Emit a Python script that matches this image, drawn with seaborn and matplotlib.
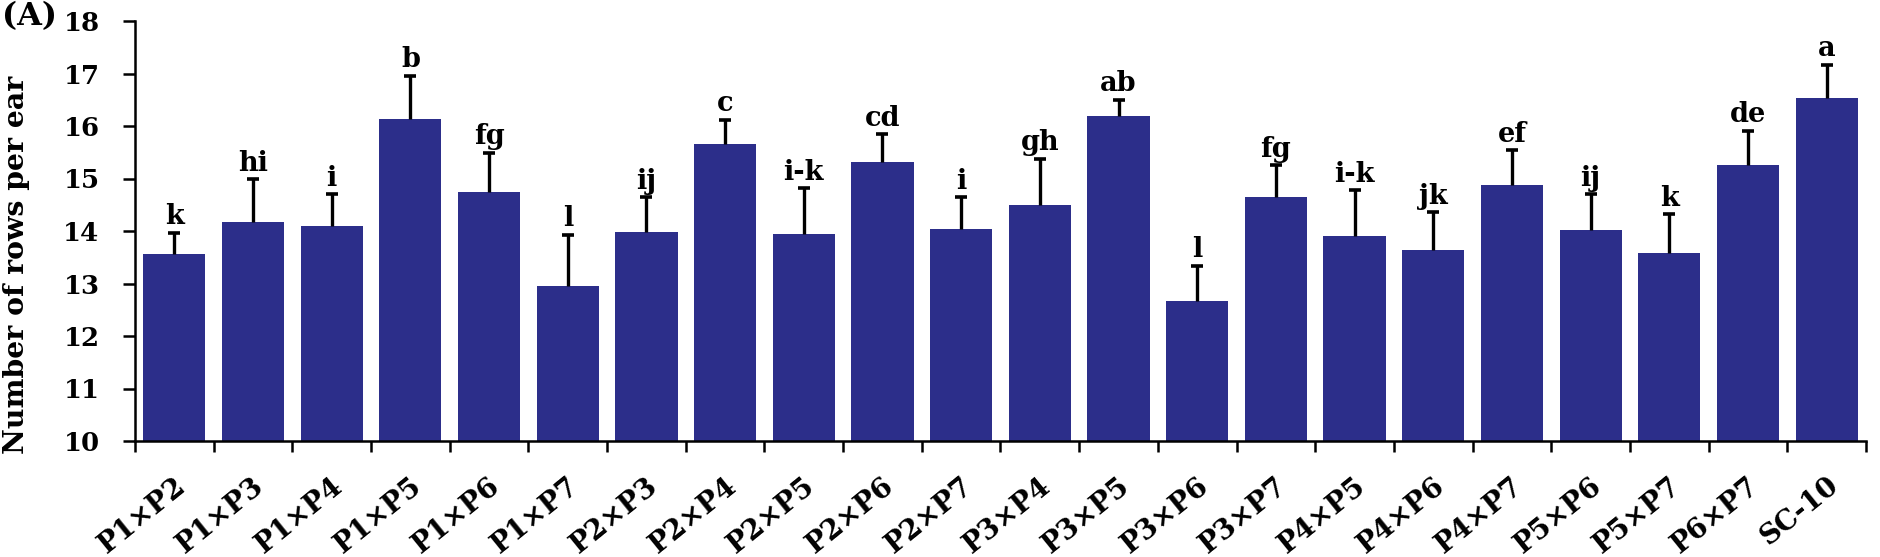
import matplotlib
matplotlib.use("Agg")
import matplotlib.pyplot as plt
import seaborn as sns
import numpy as np
import pandas as pd
from matplotlib.transforms import ScaledTranslation

# ---- data ----
categories = ["P1×P2", "P1×P3", "P1×P4", "P1×P5", "P1×P6", "P1×P7",
              "P2×P3", "P2×P4", "P2×P5", "P2×P6", "P2×P7",
              "P3×P4", "P3×P5", "P3×P6", "P3×P7",
              "P4×P5", "P4×P6", "P4×P7",
              "P5×P6", "P5×P7", "P6×P7", "SC-10"]
means = [13.56, 14.17, 14.09, 16.14, 14.74, 12.95,
         13.98, 15.66, 13.94, 15.32, 14.03,
         14.49, 16.19, 12.66, 14.65,
         13.90, 13.64, 14.88,
         14.02, 13.58, 15.26, 16.54]
errors = [0.41, 0.82, 0.61, 0.82, 0.75, 0.98,
          0.67, 0.46, 0.88, 0.53, 0.62,
          0.89, 0.31, 0.68, 0.61,
          0.88, 0.72, 0.66,
          0.68, 0.74, 0.65, 0.63]
letters = ["k", "hi", "i", "b", "fg", "l",
           "ij", "c", "i-k", "cd", "i",
           "gh", "ab", "l", "fg",
           "i-k", "jk", "ef",
           "ij", "k", "de", "a"]
y_ticks = [10, 11, 12, 13, 14, 15, 16, 17, 18]
y_label = "Number of rows per ear"
panel_tag = "(A)"

bar_color = "#2C2E8A"

sns.set_theme(style="ticks")
plt.rcParams["font.family"] = ["DejaVu Serif"]
plt.rcParams["font.weight"] = "bold"
for k in ["text.color", "axes.labelcolor", "xtick.color", "ytick.color", "axes.edgecolor"]:
    plt.rcParams[k] = "black"

W, H = 1881, 557
fig = plt.figure(figsize=(W / 100, H / 100), dpi=100)
ax = fig.add_axes([135 / W, 1 - 441 / H, (1866 - 135) / W, (441 - 21) / H])

df = pd.DataFrame({"cross": categories, "value": means})
sns.barplot(data=df, x="cross", y="value", color=bar_color, saturation=1,
            width=0.79, errorbar=None, linewidth=0, ax=ax)

n = len(categories)
xpos = np.arange(n)
means_a = np.array(means)
err_a = np.array(errors)
_, caplines, _ = ax.errorbar(xpos, means_a, yerr=[np.zeros(n), err_a], fmt="none",
                             ecolor="black", elinewidth=2.4, capsize=4.3, capthick=2.6,
                             zorder=3)
for cl in caplines:
    if np.allclose(cl.get_ydata(), means_a):
        cl.set_visible(False)

tops = means_a + err_a
for i, (t, lab) in enumerate(zip(tops, letters)):
    ax.annotate(lab, (i, t), xytext=(0, 6), textcoords="offset points",
                ha="center", va="baseline", fontsize=19.5, fontweight="bold",
                color="black", family="DejaVu Serif")

ax.set_ylim(10, 18)
ax.set_yticks(y_ticks)
ax.set_yticklabels([str(v) for v in y_ticks])
ax.set_xlim(-0.5, n - 0.5)
ax.set_xticks(np.arange(n + 1) - 0.5)
ax.set_xticklabels([""] * (n + 1))
ax.set_xticks(xpos, minor=True)
ax.set_xticklabels(categories, minor=True, rotation=39, ha="right", va="center",
                   rotation_mode="anchor", fontsize=20, fontweight="bold")
ax.tick_params(axis="x", which="major", length=8, width=1.8, direction="out")
ax.tick_params(axis="x", which="minor", length=0, pad=30)
ax.tick_params(axis="y", which="major", length=8.5, width=1.8, direction="out",
               pad=17, labelsize=18.7)
for lab in ax.get_yticklabels():
    lab.set_fontweight("bold")
offset = ScaledTranslation(8 / 100, 0, fig.dpi_scale_trans)
for lab in ax.get_xticklabels(minor=True):
    lab.set_transform(lab.get_transform() + offset)

ax.set_xlabel("")
ax.set_ylabel("")
sns.despine(ax=ax)
for s in ["left", "bottom"]:
    ax.spines[s].set_linewidth(1.8)
    ax.spines[s].set_color("black")

fig.text(17 / W, 1 - 265 / H, y_label, rotation=90, ha="center", va="center",
         fontsize=20.4, fontweight="bold")
fig.text(2 / W, 1 - 1 / H, panel_tag, ha="left", va="top", fontsize=23,
         fontweight="bold")

fig.savefig("out.png", dpi=100)
